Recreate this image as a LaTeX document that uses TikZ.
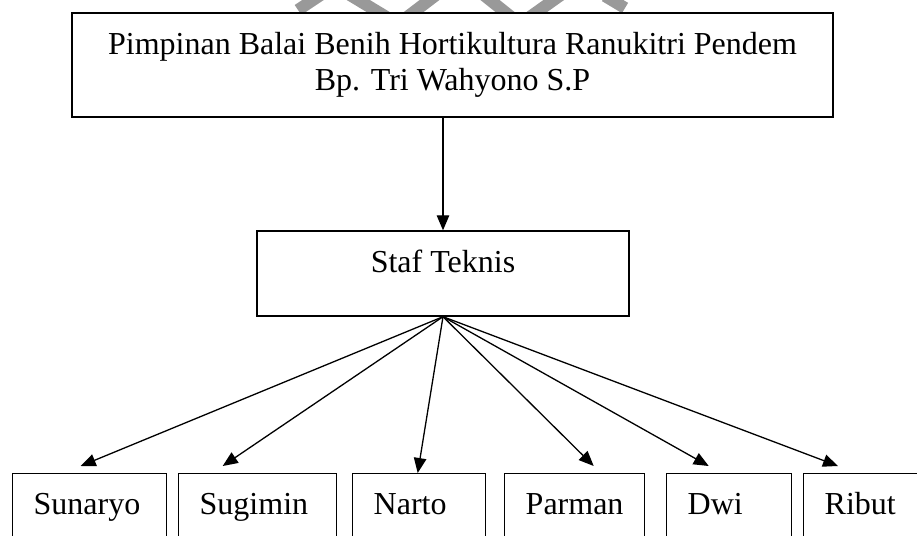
\documentclass[tikz,border=0pt]{standalone}
\usepackage{fontspec}
\setmainfont{Liberation Serif}
\usetikzlibrary{arrows.meta}

\tikzset{
  kotak/.style={draw, line width=1.4pt, fill=white, inner sep=0pt,
    font=\fontsize{32}{36.5}\selectfont},
  staf/.style={kotak, anchor=north west, align=left, inner xsep=21pt,
    inner ysep=20pt, text height=21pt, text depth=25pt},
  panah/.style={line width=1.3pt, -{Triangle[length=15pt,width=12.5pt]}}
}

\begin{document}
\begin{tikzpicture}[x=1pt,y=-1pt]
\useasboundingbox (0,0) rectangle (917,535);
\clip (0,0) rectangle (917,535);

% watermark
\begin{scope}[gray!80, line width=12pt]
\draw (298,10) -- (322,-6);
\draw (345,-8) -- (398,24) -- (440,-8);
\draw (480,-8) -- (520,24) -- (565,-8);
\draw (605,-4) -- (625,8);
\end{scope}

\node[kotak, align=center, minimum width=761pt, minimum height=104pt] (pimpinan) at (452.5,65)
  {Pimpinan Balai Benih Hortikultura Ranukitri Pendem\\Bp. Tri Wahyono S.P};
\node[kotak, minimum width=372pt, minimum height=85pt, text height=21pt, text depth=24pt] (teknis) at (443,273.5) {Staf Teknis};

\node[staf, text width=112pt] (sunaryo) at (12,473) {Sunaryo};
\node[staf, text width=116pt] (sugimin) at (178,473) {Sugimin};
\node[staf, text width=91pt] (narto) at (352,473) {Narto};
\node[staf, text width=98pt] (parman) at (504,473) {Parman};
\node[staf, text width=83pt] (dwi) at (666,473) {Dwi};
\node[staf, text width=105pt] (ribut) at (803,473) {Ribut};

\draw[panah] (teknis.north |- pimpinan.south) -- (teknis.north);

\draw[panah] (teknis.south) -- ([shift={(-9,-7)}]sunaryo.north);
\draw[panah] (teknis.south) -- ([shift={(-35,-7)}]sugimin.north);
\draw[panah] (teknis.south) -- ([shift={(-1.5,0)}]narto.north);
\draw[panah] (teknis.south) -- ([shift={(19,-7)}]parman.north);
\draw[panah] (teknis.south) -- ([shift={(-20.5,-7)}]dwi.north);
\draw[panah] (teknis.south) -- ([shift={(35,-7)}]ribut.north west);
\end{tikzpicture}
\end{document}
